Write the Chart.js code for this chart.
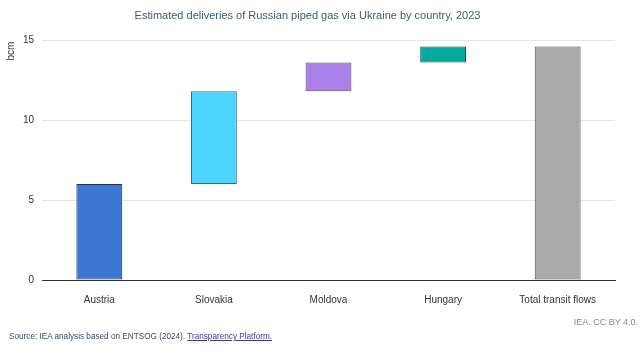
<!DOCTYPE html>
<html>
<head>
<meta charset="utf-8">
<script src="https://cdn.jsdelivr.net/npm/chart.js@4.4.1/dist/chart.umd.min.js"></script>
<style>
  html,body{margin:0;padding:0;background:#fff;}
  .wrap{position:relative;width:640px;height:347px;font-family:"Liberation Sans",Arial,sans-serif;}
  canvas{position:absolute;left:0;top:0;}
  .lic{position:absolute;right:2px;top:317px;font-size:9px;color:#8a8a8a;}
  .src{position:absolute;left:9px;top:332px;font-size:8.2px;color:#3a4a66;white-space:nowrap;}
  .src a{color:#3a3a99;text-decoration:underline;}
</style>
</head>
<body>
<div class="wrap">
  <canvas id="chart" width="640" height="347"></canvas>
  <div class="lic">IEA. CC BY 4.0.</div>
  <div class="src">Source: IEA analysis based on ENTSOG (2024). <a>Transparency Platform.</a></div>
</div>
<script>
const categories = ['Austria','Slovakia','Moldova','Hungary','Total transit flows'];
const barStart = [0, 6.0, 11.8, 13.6, 0];
const barEnd = [6.0, 11.8, 13.6, 14.6, 14.6];
const yTicks = [0, 5, 10, 15];

const fills = ['#3b78d6','#4bd5ff','#a880e8','#00a99b','#a9aaa9'];
const edges = ['#1a3560','#25708f','#4e3f73','#0d5550','#555555'];

const yTitle = {
  id:'yTitle',
  afterDraw(chart){
    const c = chart.ctx;
    c.save();
    c.translate(11, 51);
    c.rotate(-Math.PI/2);
    c.font = '10px "Liberation Sans", Arial, sans-serif';
    c.fillStyle = '#333';
    c.textAlign = 'center';
    c.textBaseline = 'middle';
    c.fillText('bcm', 0, 0);
    c.restore();
  }
};

new Chart(document.getElementById('chart'), {
  type:'bar',
  data:{
    labels:categories,
    datasets:[{
      data:categories.map((_, i) => [barStart[i], barEnd[i]]),
      backgroundColor:fills,
      borderColor:edges,
      borderWidth:{ top:1, bottom:1, left:1, right:1 },
      borderSkipped:false,
      barPercentage:.8,
      categoryPercentage:.5
    }]
  },
  options:{
    responsive:false, animation:false,
    layout:{ padding:{ left:0, right:25, top:0, bottom:0 } },
    plugins:{
      legend:{ display:false },
      tooltip:{ enabled:false },
      title:{
        display:true,
        text:'Estimated deliveries of Russian piped gas via Ukraine by country, 2023',
        color:'#3d5a6e',
        font:{ size:11, weight:'normal', family:'"Liberation Sans", Arial, sans-serif', lineHeight:1.2 },
        padding:{ top:9, bottom:17.8 }
      }
    },
    scales:{
      y:{
        min:0, max:15,
        afterBuildTicks:s => { s.ticks = yTicks.map(v => ({ value:v })); },
        afterFit:s => { s.width = 42; },
        border:{ display:false },
        grid:{ color:'#e4e4e4', drawTicks:false },
        ticks:{ padding:8, color:'#333', font:{ size:10, family:'"Liberation Sans", Arial, sans-serif' } }
      },
      x:{
        afterFit:s => { s.height = 67; },
        border:{ display:true, color:'#333', width:1 },
        grid:{ display:false },
        ticks:{ padding:6, color:'#333', font:{ size:10, family:'"Liberation Sans", Arial, sans-serif' } }
      }
    }
  },
  plugins:[yTitle]
});
</script>
</body>
</html>
